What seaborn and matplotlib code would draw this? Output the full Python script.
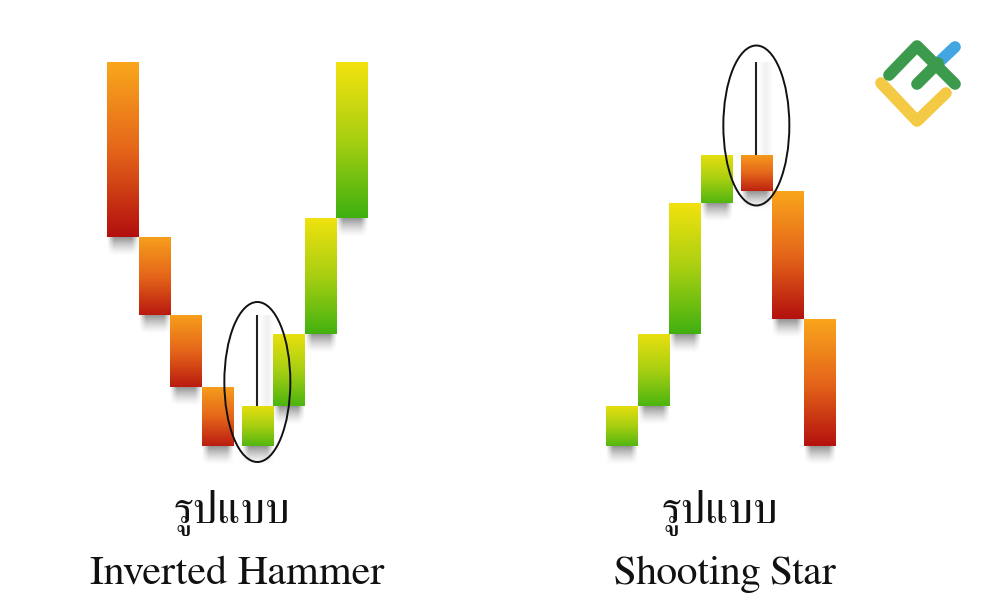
"""Inverted hammer / shooting star candlestick sketch."""

import matplotlib
matplotlib.use("Agg")
import matplotlib.pyplot as plt
import numpy as np
import seaborn as sns
from matplotlib.colors import LinearSegmentedColormap
from matplotlib.patches import Ellipse

# candle slot, open/close range and the wick top
HAMMER_SLOTS = [0, 1, 2, 3, 4.25, 5.25, 6.25, 7.25]
HAMMER_LOW = [209, 131, 59, 0, 0, 40, 112, 228]
HAMMER_HIGH = [384, 209, 131, 59, 40, 112, 228, 384]
HAMMER_BULL = [False, False, False, False, True, True, True, True]
HAMMER_WICK = 131
HAMMER_RING = 64

STAR_SLOTS = [0, 1, 2, 3, 4.25, 5.25, 6.25]
STAR_LOW = [0, 40, 112, 243, 255, 127, 0]
STAR_HIGH = [40, 112, 243, 291, 291, 255, 127]
STAR_BULL = [True, True, True, True, False, False, False]
STAR_WICK = 384
STAR_RING = 320.5

THAI_LABEL = "รูปแบบ"
HAMMER_LABEL = "Inverted Hammer"
STAR_LABEL = "Shooting Star"

W, H = 1000, 612
SLOT_PX = 31.65
BASE_PY = 446
TOP_PY = 62

BEAR = LinearSegmentedColormap.from_list("bear", ["#f9a61c", "#e5661a", "#b3100e"])
BULL = LinearSegmentedColormap.from_list("bull", ["#f2e20e", "#a8cf12", "#3fb010"])


def price_axes(fig, left_px, n_slots):
    # one price unit is one pixel, slot 0 is centred half a slot from left_px
    ax = fig.add_axes([left_px / W, 1 - BASE_PY / H,
                       n_slots * SLOT_PX / W, (BASE_PY - TOP_PY) / H])
    ax.axis("off")
    return ax


def shadow(ax, x0, x1, y, drop=19, zorder=1):
    # soft grey blur hanging under a candle
    ny, nx = 40, 60
    fy = np.linspace(1, 0, ny) ** 1.4
    t = np.linspace(0, 1, nx)
    fx = np.clip(np.minimum(t, 1 - t) / 0.22, 0, 1)
    rgba = np.zeros((ny, nx, 4))
    rgba[..., :3] = 0.3
    rgba[..., 3] = 0.6 * fy[:, None] * fx[None, :]
    ax.imshow(rgba, extent=[x0, x1, y - drop, y], origin="upper", aspect="auto",
              zorder=zorder, clip_on=False, interpolation="bilinear")


def draw_candles(ax, slots, low, high, bull, wick_i, wick_top, ring_y):
    heights = [h - l for h, l in zip(high, low)]
    sns.barplot(x=slots, y=heights, bottom=low, native_scale=True, width=1.0,
                color="white", errorbar=None, ax=ax, linewidth=0)
    for i, bar in enumerate(ax.patches):
        x0, w = bar.get_x(), bar.get_width()
        y0, h = bar.get_y(), bar.get_height()
        shadow(ax, x0, x0 + w, y0)
        # shorter candles only show part of the colour ramp
        span = min(1.0, 0.72 + h / 500)
        ramp = np.linspace(0.5 - span / 2, 0.5 + span / 2, 64)[:, None]
        ax.imshow(BULL(ramp) if bull[i] else BEAR(ramp), origin="upper", aspect="auto",
                  extent=[x0, x0 + w, y0, y0 + h], zorder=3, interpolation="bilinear")
        bar.set_visible(False)

    cx = slots[wick_i]
    body_top = high[wick_i]
    # faint blur to the right of the wick
    glow = np.zeros((2, 24, 4))
    glow[..., :3] = 0.35
    glow[..., 3] = 0.09 * np.clip(1 - np.abs(np.linspace(-1, 1, 24)), 0, 1)
    ax.imshow(glow, extent=[cx + 0.05, cx + 0.55, body_top, wick_top], aspect="auto",
              zorder=2, interpolation="bilinear")
    ax.plot([cx, cx], [body_top, wick_top], color="#222222", lw=1.5, zorder=4,
            solid_capstyle="butt")

    # ring around the signal candle
    ax.add_patch(Ellipse((cx, ring_y), 66 / SLOT_PX, 160, fill=False, ec="#111111",
                         lw=1.4, zorder=5, clip_on=False))
    ax.set_xlim(slots[0] - 0.5, slots[-1] + 0.5)
    ax.set_ylim(0, BASE_PY - TOP_PY)
    ax.set_xlabel("")
    ax.set_ylabel("")


def main():
    sns.set_theme(style="white")
    plt.rcParams["font.family"] = ["FreeSerif", "DejaVu Serif"]

    fig = plt.figure(figsize=(W / 100, H / 100), dpi=100, facecolor="white")

    ax_l = price_axes(fig, 107, 8.25)
    draw_candles(ax_l, HAMMER_SLOTS, HAMMER_LOW, HAMMER_HIGH, HAMMER_BULL, 4, HAMMER_WICK, HAMMER_RING)
    ax_r = price_axes(fig, 606, 7.25)
    draw_candles(ax_r, STAR_SLOTS, STAR_LOW, STAR_HIGH, STAR_BULL, 4, STAR_WICK, STAR_RING)

    fig.text(232 / W, 1 - 523 / H, THAI_LABEL, fontsize=32, ha="center", va="baseline", color="#111111")
    fig.text(237.5 / W, 1 - 584 / H, HAMMER_LABEL, fontsize=30.4, ha="center", va="baseline", color="#111111")
    fig.text(720 / W, 1 - 523 / H, THAI_LABEL, fontsize=32, ha="center", va="baseline", color="#111111")
    fig.text(725 / W, 1 - 584 / H, STAR_LABEL, fontsize=30, ha="center", va="baseline", color="#111111")

    # logo, top right, drawn in pixel space
    logo = fig.add_axes([0, 0, 1, 1], facecolor="none")
    logo.set_xlim(0, W)
    logo.set_ylim(H, 0)
    logo.axis("off")
    strokes = [
        ([938, 955], [63, 47], "#43a6e2"),
        ([881, 917, 946], [83, 121, 93], "#f4c944"),
        ([889, 917, 955], [75, 46, 84], "#3c9a4c"),
        ([917, 938], [84, 63], "#3c9a4c"),
    ]
    for xs, ys, col in strokes:
        logo.plot(xs, ys, color=col, lw=8.4, solid_capstyle="round", solid_joinstyle="round")

    fig.savefig("out.png", dpi=100)


if __name__ == "__main__":
    main()
